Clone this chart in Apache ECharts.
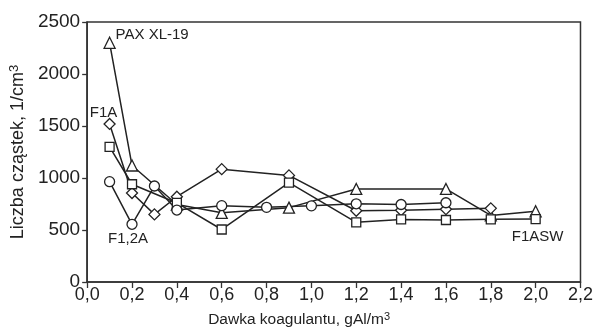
<!DOCTYPE html>
<html>
<head>
<meta charset="utf-8">
<script src="https://cdn.jsdelivr.net/npm/echarts@6/dist/echarts.min.js"></script>
<style>
html,body{margin:0;padding:0;background:#fff;}
#chart{width:596px;height:329px;}
</style>
</head>
<body>
<div id="chart"></div>
<script>
// Data (x: coagulant dose gAl/m3, y: particle count 1/cm3)
const paxX = [0.1, 0.2, 0.4, 0.6, 0.9, 1.2, 1.6, 1.8, 2.0];
const paxY = [2300, 1120, 745, 665, 715, 895, 895, 640, 680];

const f1aX = [0.1, 0.2, 0.3, 0.4, 0.6, 0.9, 1.2, 1.4, 1.6, 1.8];
const f1aY = [1520, 855, 650, 820, 1085, 1025, 685, 690, 700, 708];

const f1aswX = [0.1, 0.2, 0.4, 0.6, 0.9, 1.2, 1.4, 1.6, 1.8, 2.0];
const f1aswY = [1300, 940, 760, 505, 955, 574, 602, 596, 603, 605];

const f12aX = [0.1, 0.2, 0.3, 0.4, 0.6, 0.8, 1.0, 1.2, 1.4, 1.6];
const f12aY = [965, 555, 923, 692, 734, 718, 732, 752, 745, 762];

const xTicks = ['0,0','0,2','0,4','0,6','0,8','1,0','1,2','1,4','1,6','1,8','2,0','2,2'];
const yTicks = [0, 500, 1000, 1500, 2000, 2500];

const seriesLabels = [
  {text: 'PAX XL-19', x: 0.1, y: 2300, dx: 6, dy: -8, align: 'left'},
  {text: 'F1A', x: 0.1, y: 1520, dx: -6, dy: -11, align: 'center'},
  {text: 'F1,2A', x: 0.2, y: 555, dx: -4, dy: 15, align: 'center'},
  {text: 'F1ASW', x: 2.0, y: 605, dx: 2, dy: 18, align: 'center'}
];

const FONT = '"Liberation Sans", Arial, sans-serif';
const INK = '#222';

function pairs(xs, ys){ return xs.map((x,i)=>[x, ys[i]]); }

const chart = echarts.init(document.getElementById('chart'), null, {renderer:'canvas'});

function mk(name, xs, ys, symbol, size){
  return {
    name, type:'line', data: pairs(xs, ys),
    symbol, symbolSize: size,
    lineStyle:{color:INK, width:1.5},
    itemStyle:{color:'#fff', borderColor:INK, borderWidth:1.3},
    emphasis:{disabled:true},
    animation:false, z: 3
  };
}

const option = {
  animation:false,
  grid:{left:83, right:15, top:22, bottom:47, show:true, borderColor:'#333', borderWidth:1.5, backgroundColor:'transparent'},
  xAxis:{
    type:'value', min:0, max:2.2, interval:0.2,
    axisLine:{show:true, onZero:false, lineStyle:{color:'#333', width:1.5}},
    axisTick:{show:true, inside:false, length:6, lineStyle:{color:'#333', width:1.3}},
    splitLine:{show:false},
    axisLabel:{
      margin:4, fontFamily:FONT, fontSize:18, color:INK,
      formatter:(v)=>xTicks[Math.round(v/0.2)]
    }
  },
  yAxis:{
    type:'value', min:0, max:2500, interval:500,
    axisLine:{show:true, lineStyle:{color:'#333', width:1.5}},
    axisTick:{show:true, inside:false, length:5, lineStyle:{color:'#333', width:1.3}},
    splitLine:{show:false},
    axisLabel:{
      margin:7, fontFamily:FONT, fontSize:19, color:INK,
      formatter:(v)=>String(yTicks[Math.round(v/500)])
    },
    name:'{a|Liczba cząstek, 1/cm}{s|3}',
    nameLocation:'middle', nameGap:54, nameRotate:90,
    nameTextStyle:{
      rich:{
        a:{fontFamily:FONT, fontSize:18, color:INK},
        s:{fontFamily:FONT, fontSize:13, color:INK, verticalAlign:'top', padding:[0,0,7,0]}
      }
    }
  },
  series:[
    mk('PAX XL-19', paxX, paxY, 'triangle', 11),
    mk('F1A', f1aX, f1aY, 'diamond', 11),
    mk('F1ASW', f1aswX, f1aswY, 'rect', 9),
    mk('F1,2A', f12aX, f12aY, 'circle', 10)
  ]
};
chart.setOption(option);

const g = [];
seriesLabels.forEach(l=>{
  const p = chart.convertToPixel({gridIndex:0}, [l.x, l.y]);
  g.push({
    type:'text', x:p[0]+l.dx, y:p[1]+l.dy, z:10,
    style:{text:l.text, fontFamily:FONT, fontSize:15, fill:INK, align:l.align, verticalAlign:'middle'}
  });
});
// x-axis title
const gx = chart.convertToPixel({gridIndex:0}, [0.945, 0]);
g.push({
  type:'text', x:gx[0], y:gx[1]+29, z:10,
  style:{
    text:'{a|Dawka koagulantu, gAl/m}{s|3}', align:'center', verticalAlign:'top',
    rich:{
      a:{fontFamily:FONT, fontSize:15.5, fill:INK},
      s:{fontFamily:FONT, fontSize:11, fill:INK, verticalAlign:'top', padding:[0,0,6,0]}
    }
  }
});
chart.setOption({graphic:g});
</script>
</body>
</html>
